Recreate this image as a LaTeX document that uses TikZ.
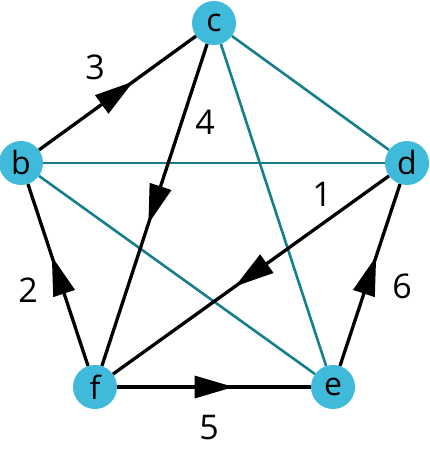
\documentclass[tikz,border=0pt]{standalone}
\usepackage{fontspec}
\setmainfont{Open Sans}
\usetikzlibrary{decorations.markings}
\definecolor{nodefill}{HTML}{3FBADB}
\definecolor{tealline}{HTML}{167F8E}
\begin{document}
\begin{tikzpicture}[x=1pt,y=-1pt,
  vert/.style={circle,fill=nodefill,minimum size=44pt,inner sep=0pt,font=\fontsize{32}{32}\selectfont},
  lbl/.style={inner sep=0pt,font=\fontsize{34}{34}\selectfont},
  plainedge/.style={draw=tealline,line width=2.6pt},
  directed/.style={draw=black,line width=3.3pt,postaction={decorate},
    decoration={markings,mark=at position 0.5 with {\fill[black] (19.5pt,0pt) -- (-19.5pt,11.5pt) -- (-19.5pt,-11.5pt) -- cycle;}}}
]
\useasboundingbox (0,0) rectangle (429,457);
\node[vert] (c) at (214,23) {c};
\node[vert] (b) at (21,163) {b};
\node[vert] (d) at (407,163) {d};
\node[vert] (f) at (95,387) {f};
\node[vert] (e) at (333,387) {e};

\draw[plainedge] (c) -- (d);
\draw[plainedge] (b) -- (d);
\draw[plainedge] (c) -- (e);
\draw[plainedge] (b) -- (e);

\draw[directed] (b) -- (c);
\draw[directed] (c) -- (f);
\draw[directed] (d) -- (f);
\draw[directed] (f) -- (b);
\draw[directed] (f) -- (e);
\draw[directed] (e) -- (d);

\node[lbl] (l3) at (95,67) {3};
\node[lbl] (l4) at (205,122) {4};
\node[lbl] (l1) at (322,194) {1};
\node[lbl] (l2) at (28,290) {2};
\node[lbl] (l6) at (402,286) {6};
\node[lbl] (l5) at (209,428) {5};
\end{tikzpicture}
\end{document}
